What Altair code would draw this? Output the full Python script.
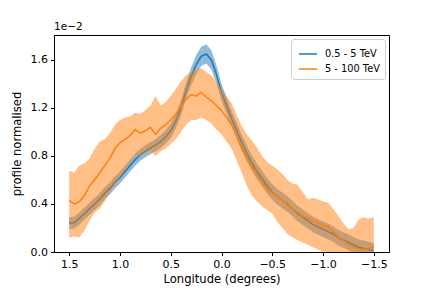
import altair as alt
import pandas as pd

# Longitude grid (degrees), step 0.05 from 1.5 to -1.5
lon = [round(1.5 - 0.05 * i, 2) for i in range(61)]

# 0.5 - 5 TeV profile (units of 1e-2)
blue_mid = [0.24, 0.245, 0.28, 0.32, 0.36, 0.40, 0.44, 0.49, 0.53, 0.58,
            0.62, 0.67, 0.72, 0.77, 0.81, 0.84, 0.865, 0.89, 0.92, 0.96,
            1.01, 1.09, 1.20, 1.34, 1.46, 1.56, 1.63, 1.65, 1.60, 1.48,
            1.33, 1.22, 1.11, 1.01, 0.91, 0.82, 0.74, 0.67, 0.61, 0.55,
            0.50, 0.46, 0.43, 0.40, 0.36, 0.32, 0.29, 0.26, 0.23, 0.21,
            0.19, 0.17, 0.15, 0.12, 0.10, 0.08, 0.06, 0.04, 0.03, 0.02, 0.01]
blue_err = [0.05, 0.05, 0.05, 0.05, 0.05, 0.05, 0.05, 0.05, 0.05, 0.05,
            0.05, 0.05, 0.05, 0.05, 0.05, 0.05, 0.05, 0.05, 0.055, 0.055,
            0.06, 0.06, 0.065, 0.07, 0.075, 0.08, 0.08, 0.08, 0.08, 0.075,
            0.07, 0.07, 0.065, 0.065, 0.065, 0.065, 0.065, 0.065, 0.065, 0.065,
            0.065, 0.065, 0.065, 0.065, 0.065, 0.065, 0.065, 0.065, 0.065, 0.065,
            0.065, 0.065, 0.065, 0.065, 0.065, 0.065, 0.065, 0.065, 0.065, 0.065, 0.065]

# 5 - 100 TeV profile (units of 1e-2)
orange_mid = [0.43, 0.40, 0.42, 0.47, 0.55, 0.60, 0.66, 0.72, 0.78, 0.86,
              0.91, 0.94, 0.97, 1.02, 0.99, 1.01, 1.04, 0.98, 1.03, 1.06,
              1.10, 1.15, 1.21, 1.27, 1.31, 1.30, 1.33, 1.29, 1.26, 1.22,
              1.18, 1.12, 1.06, 0.96, 0.86, 0.78, 0.71, 0.65, 0.58, 0.53,
              0.49, 0.46, 0.43, 0.39, 0.36, 0.33, 0.30, 0.28, 0.26, 0.24,
              0.22, 0.21, 0.17, 0.13, 0.10, 0.06, 0.04, 0.03, 0.02, 0.03, 0.04]
orange_hi = [0.68, 0.66, 0.72, 0.74, 0.78, 0.86, 0.92, 0.94, 0.99, 1.06,
             1.10, 1.12, 1.13, 1.16, 1.15, 1.18, 1.22, 1.30, 1.22, 1.25,
             1.30, 1.36, 1.42, 1.47, 1.50, 1.52, 1.53, 1.50, 1.47, 1.42,
             1.36, 1.30, 1.24, 1.14, 1.05, 0.98, 0.93, 0.87, 0.80, 0.75,
             0.72, 0.69, 0.65, 0.60, 0.57, 0.56, 0.50, 0.44, 0.45, 0.44,
             0.42, 0.41, 0.36, 0.30, 0.24, 0.19, 0.20, 0.27, 0.29, 0.28, 0.29]
orange_lo = [0.12, 0.13, 0.12, 0.18, 0.26, 0.33, 0.36, 0.42, 0.50, 0.56,
             0.62, 0.68, 0.74, 0.80, 0.80, 0.82, 0.85, 0.80, 0.84, 0.86,
             0.90, 0.94, 1.00, 1.06, 1.10, 1.10, 1.12, 1.10, 1.07, 1.02,
             0.98, 0.92, 0.86, 0.76, 0.66, 0.55, 0.47, 0.42, 0.38, 0.35,
             0.32, 0.25, 0.20, 0.15, 0.12, 0.10, 0.08, 0.06, 0.04, 0.02,
             0.00, -0.02, -0.04, -0.06, -0.08, -0.10, -0.12, -0.14, -0.16, -0.18, -0.20]

series = ["0.5 - 5 TeV", "5 - 100 TeV"]
colors = ["#1f77b4", "#ff7f0e"]

rows = []
for i, x in enumerate(lon):
    rows.append({"lon": x, "series": series[0], "mid": blue_mid[i],
                 "lo": blue_mid[i] - blue_err[i], "hi": blue_mid[i] + blue_err[i]})
    rows.append({"lon": x, "series": series[1], "mid": orange_mid[i],
                 "lo": orange_lo[i], "hi": orange_hi[i]})
df = pd.DataFrame(rows)

FONT = "DejaVu Sans"

xscale = alt.Scale(domain=[1.65, -1.65], nice=False, zero=False)
yscale = alt.Scale(domain=[0, 1.808], nice=False)
cscale = alt.Scale(domain=series, range=colors)

xaxis = alt.Axis(title="Longitude (degrees)", values=[1.5, 1.0, 0.5, 0.0, -0.5, -1.0, -1.5],
                 labelExpr="datum.value < 0 ? '\u2212' + format(abs(datum.value), '.1f') : format(datum.value, '.1f')",
                 grid=False, tickSize=3.5, labelPadding=3, titlePadding=4)
yaxis = alt.Axis(title="profile normalised", values=[0, 0.4, 0.8, 1.2, 1.6], format=".1f",
                 grid=False, tickSize=3.5, labelPadding=3, titlePadding=8)

base = alt.Chart(df)

legend = alt.Legend(title=None, orient="top-right", offset=4,
                    fillColor="white", strokeColor="#cccccc",
                    cornerRadius=3, padding=5, symbolType="stroke",
                    symbolSize=330, symbolStrokeWidth=1.5, symbolOffset=2,
                    labelFontSize=9.8, labelFont=FONT, rowPadding=0, labelOffset=7,
                    labelColor="black")


def band(i):
    return base.transform_filter(alt.datum.series == series[i]).mark_area(
        opacity=0.5, clip=True, color=colors[i]
    ).encode(
        x=alt.X("lon:Q", scale=xscale, axis=xaxis),
        y=alt.Y("lo:Q", scale=yscale, axis=yaxis),
        y2="hi:Q",
    )


def line(i):
    return base.transform_filter(alt.datum.series == series[i]).mark_line(strokeWidth=1.5, clip=True).encode(
        x=alt.X("lon:Q", scale=xscale, axis=xaxis),
        y=alt.Y("mid:Q", scale=yscale, axis=yaxis),
        color=alt.Color("series:N", scale=cscale, legend=legend),
    )


offset = alt.Chart(pd.DataFrame({"t": ["1e\u22122"]})).mark_text(
    align="left", baseline="bottom", font=FONT, fontSize=10.5, color="black"
).encode(x=alt.value(0), y=alt.value(-3), text="t:N")

chart = alt.layer(band(0), line(0), band(1), line(1), offset).properties(
    width=335, height=217,
    autosize=alt.AutoSizeParams(type="none"),
    padding={"left": 46, "top": 27, "right": 35, "bottom": 36},
).configure_view(stroke="black", strokeWidth=1).configure_axis(
    labelFont=FONT, titleFont=FONT, labelFontSize=11, titleFontSize=11.6,
    titleFontWeight="normal", labelColor="black", titleColor="black",
    domainColor="black", tickColor="black", domainWidth=1,
)

chart.save("out.html", embed_options={"renderer": "svg", "actions": False})
